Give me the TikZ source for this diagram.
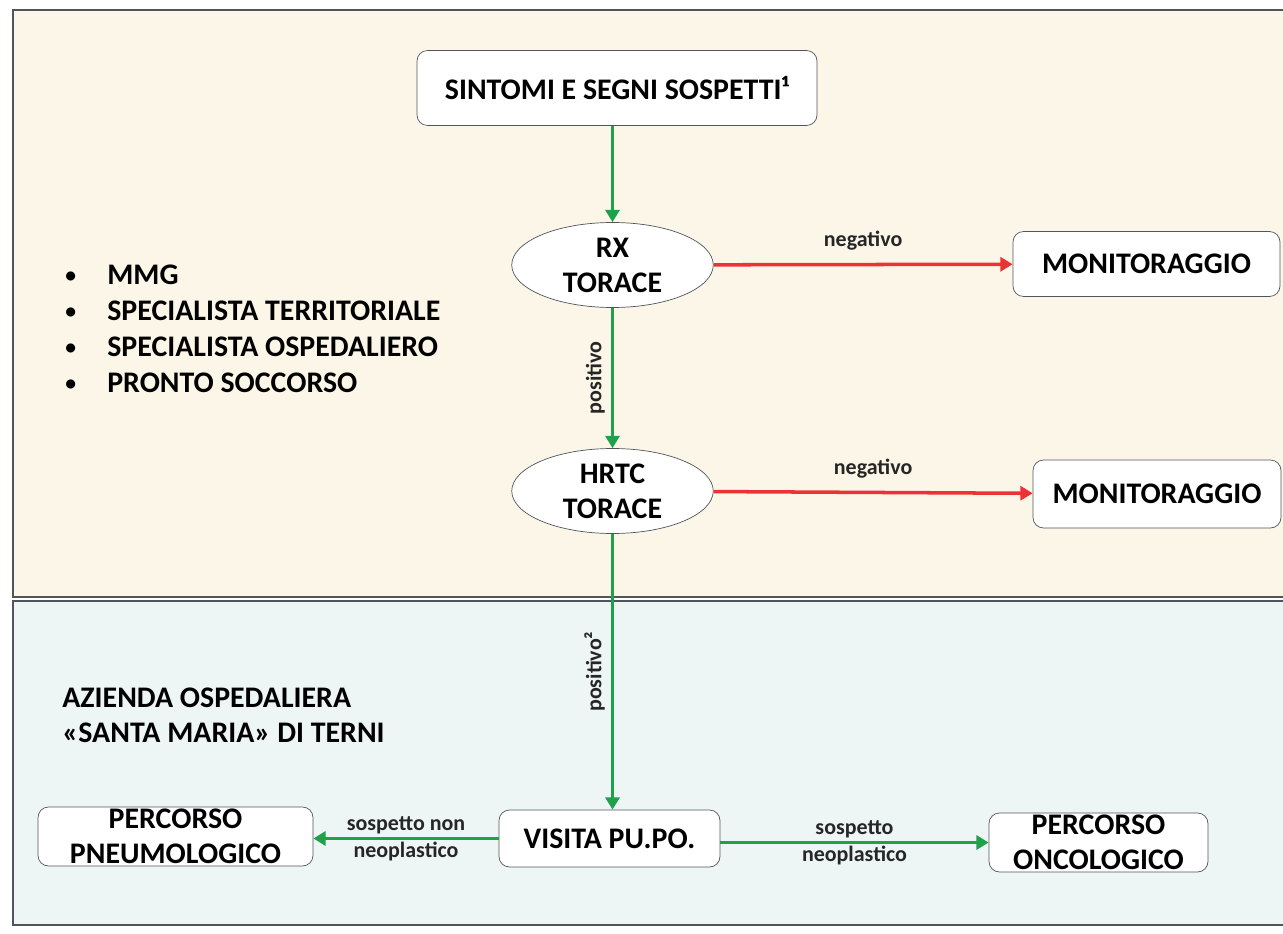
\documentclass[tikz,border=0pt]{standalone}
\usepackage{fontspec}
\setmainfont{Carlito}
\usepackage{xcolor}
\usetikzlibrary{shapes.geometric, arrows.meta}

\definecolor{panelbeige}{HTML}{FCF6E8}
\definecolor{panelblue}{HTML}{EEF5F5}
\definecolor{yesgreen}{HTML}{1FA04B}
\definecolor{nored}{HTML}{EC3237}
\definecolor{edgegrey}{HTML}{50555C}

\newcommand{\actorbullet}{\makebox[0.84cm][l]{\raisebox{1.2pt}{\scalebox{0.72}{•}}}}

\tikzset{
	panel/.style = {draw = edgegrey, line width = 0.8pt},
	stepbox/.style = {draw = edgegrey, fill = white, rounded corners = 6pt, align = center, inner sep = 0pt},
	testoval/.style = {ellipse, draw = edgegrey, fill = white, align = center, inner sep = 0pt, minimum width = 4.03cm, minimum height = 1.7cm},
	yesarrow/.style = {draw = yesgreen, line width = 2pt, -{Triangle[length = 7pt, width = 8pt]}},
	noarrow/.style = {draw = nored, line width = 2pt, -{Triangle[length = 7pt, width = 8pt]}},
	edgetext/.style = {font = \bfseries\fontsize{12.5}{15.5}\selectfont, text = black!85, align = center}
}

\begin{document}
\begin{tikzpicture}[font = \bfseries\fontsize{17}{20}\selectfont]
			\def\colx{12.25};
			
			\useasboundingbox (0,0) rectangle (25.66,-18.68);
			
			\draw[panel, fill = panelbeige] (0.26,-0.2) rectangle (26,-11.94);
			\draw[panel, fill = panelblue] (0.26,-12.02) rectangle (26,-18.5);
			
			\node[stepbox, minimum width = 8cm, minimum height = 1.5cm] (sintomi) at (12.34,-1.76) {SINTOMI E SEGNI SOSPETTI¹};
			\node[testoval] (rx) at (\colx,-5.3) {RX\\TORACE};
			\node[testoval] (hrtc) at (\colx,-9.82) {HRTC\\TORACE};
			\node[stepbox, minimum width = 5.34cm, minimum height = 1.3cm] (monitor1) at (22.93,-5.28) {MONITORAGGIO};
			\node[stepbox, minimum width = 4.96cm, minimum height = 1.36cm] (monitor2) at (23.14,-9.88) {MONITORAGGIO};
			\node[stepbox, minimum width = 4.42cm, minimum height = 1.14cm] (visita) at (12.19,-16.77) {VISITA PU.PO.};
			\node[stepbox, minimum width = 5.5cm, minimum height = 1.18cm] (pneumo) at (3.51,-16.73) {PERCORSO\\PNEUMOLOGICO};
			\node[stepbox, minimum width = 4.38cm, minimum height = 1.18cm] (onco) at (21.97,-16.85) {PERCORSO\\ONCOLOGICO};
			
			\node[anchor = west, align = left, inner sep = 0pt, font = \bfseries\fontsize{17}{20.4}\selectfont] (actors) at (1.3,-6.58) {\actorbullet MMG\\\actorbullet SPECIALISTA TERRITORIALE\\\actorbullet SPECIALISTA OSPEDALIERO\\\actorbullet PRONTO SOCCORSO};
			\node[anchor = west, align = left, inner sep = 0pt] (hospital) at (1.24,-14.3) {AZIENDA OSPEDALIERA\\«SANTA MARIA» DI TERNI};
			
			\begin{scope}[yesarrow]
				\draw (rx |- sintomi.south) -- (rx.north);
				\draw (rx) -- (hrtc) node [midway, rotate = 90, anchor = south, edgetext] {positivo};
				\draw (hrtc.south) -- (hrtc.south |- visita.north) node [midway, rotate = 90, anchor = south, edgetext] {positivo²};
				\draw (visita.west) -- (visita.west -| pneumo.east) node [midway, edgetext] {sospetto non\\neoplastico};
				\draw (visita.east |- onco) -- (onco.west) node [midway, edgetext] {sospetto\\neoplastico};
			\end{scope}
			
			\begin{scope}[noarrow]
				\draw (rx) -- (monitor1) node [midway, above = 4pt, edgetext] {negativo};
				\draw (hrtc) -- (monitor2) node [midway, above = 4pt, edgetext] {negativo};
			\end{scope}
		\end{tikzpicture}
\end{document}
